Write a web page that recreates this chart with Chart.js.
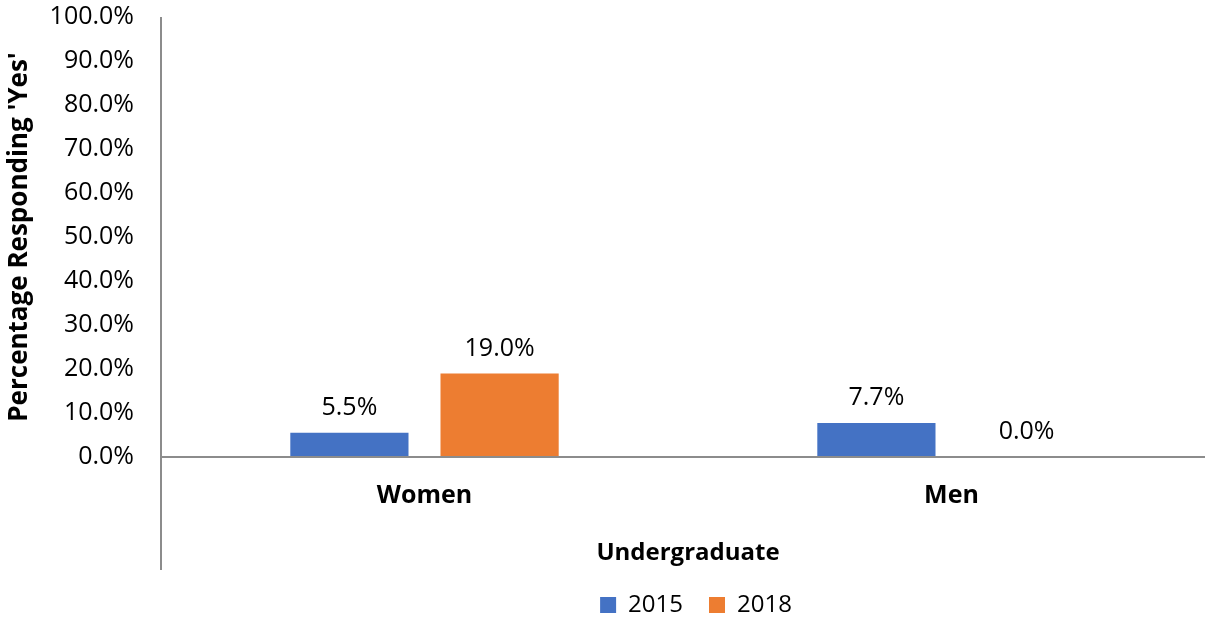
<!DOCTYPE html>
<html lang="en">
<head>
<meta charset="UTF-8">
<title>Percentage Responding 'Yes'</title>
<script src="https://cdn.jsdelivr.net/npm/chart.js@4.4.0/dist/chart.umd.min.js"></script>
<style>
  html, body { margin: 0; padding: 0; background: #fff; }
  #wrap { width: 1215px; height: 622px; }
</style>
</head>
<body>
<div id="wrap"><canvas id="chart1"></canvas></div>
<script>
// data
const categories = ['Women', 'Men'];
const years = ['2015', '2018'];
const values2015 = [5.5, 7.7];
const values2018 = [19.0, 0.0];
const yTicks = [0, 10, 20, 30, 40, 50, 60, 70, 80, 90, 100];

const FONT = "'Open Sans', 'Liberation Sans', sans-serif";
const AXIS_GRAY = '#8c8c8c';

// labels above the bars + the axis lines (the vertical one runs down past the category labels)
const extras = {
  id: 'extras',
  afterLayout(chart) {
    // legend sits centred under the plot area, not the whole canvas
    chart.legend.left = chart.chartArea.left + 16;
    chart.legend.top += 5;
    chart.legend.bottom += 5;
  },
  afterDatasetsDraw(chart) {
    const ctx = chart.ctx;
    ctx.save();
    ctx.font = '25px ' + FONT;
    ctx.fillStyle = '#000';
    ctx.textAlign = 'center';
    ctx.textBaseline = 'middle';
    chart.data.datasets.forEach((ds, i) => {
      chart.getDatasetMeta(i).data.forEach((bar, j) => {
        ctx.fillText(ds.data[j].toFixed(1) + '%', bar.x, bar.y - 25);
      });
    });
    const a = chart.chartArea;
    ctx.strokeStyle = AXIS_GRAY;
    ctx.lineWidth = 2;
    ctx.beginPath();
    ctx.moveTo(a.left, a.bottom);
    ctx.lineTo(a.right - 10, a.bottom);
    ctx.moveTo(a.left, a.top);
    ctx.lineTo(a.left, a.bottom + 113);
    ctx.stroke();
    ctx.restore();
  }
};

new Chart(document.getElementById('chart1'), {
  type: 'bar',
  data: {
    labels: categories,
    datasets: [
      { label: years[0], data: values2015, backgroundColor: '#4472C4' },
      { label: years[1], data: values2018, backgroundColor: '#ED7D31' }
    ]
  },
  options: {
    responsive: true,
    maintainAspectRatio: false,
    animation: false,
    categoryPercentage: 0.57,
    barPercentage: 0.787,
    layout: { padding: { top: 17, right: 0, left: 0, bottom: 0 } },
    plugins: {
      legend: {
        position: 'bottom',
        labels: {
          font: { family: FONT, size: 24 },
          color: '#000',
          boxWidth: 16,
          boxHeight: 16,
          padding: 26
        }
      },
      tooltip: { enabled: false }
    },
    scales: {
      x: {
        grid: { display: false },
        border: { display: false },
        ticks: { color: '#000', padding: 16, font: { family: FONT, size: 25, weight: 'bold' } },
        title: {
          display: true,
          text: 'Undergraduate',
          color: '#000',
          font: { family: FONT, size: 24, weight: 'bold' },
          padding: { top: 0, bottom: -6 }
        },
        afterFit(scale) { scale.height = 105; }
      },
      y: {
        min: 0,
        max: 100,
        // invisible tick marks give the gap between labels and axis
        grid: { color: 'transparent', drawOnChartArea: false, tickLength: 27 },
        border: { display: false },
        afterBuildTicks(scale) { scale.ticks = yTicks.map(v => ({ value: v })); },
        ticks: {
          color: '#000',
          padding: 0,
          font: { family: FONT, size: 25 },
          callback: v => v.toFixed(1) + '%'
        },
        title: {
          display: true,
          text: "Percentage Responding 'Yes'",
          color: '#000',
          font: { family: FONT, size: 26, weight: 'bold' },
          padding: { top: 4, bottom: 0 }
        },
        afterFit(scale) { scale.width = 161; }
      }
    }
  },
  plugins: [extras]
});
</script>
</body>
</html>
